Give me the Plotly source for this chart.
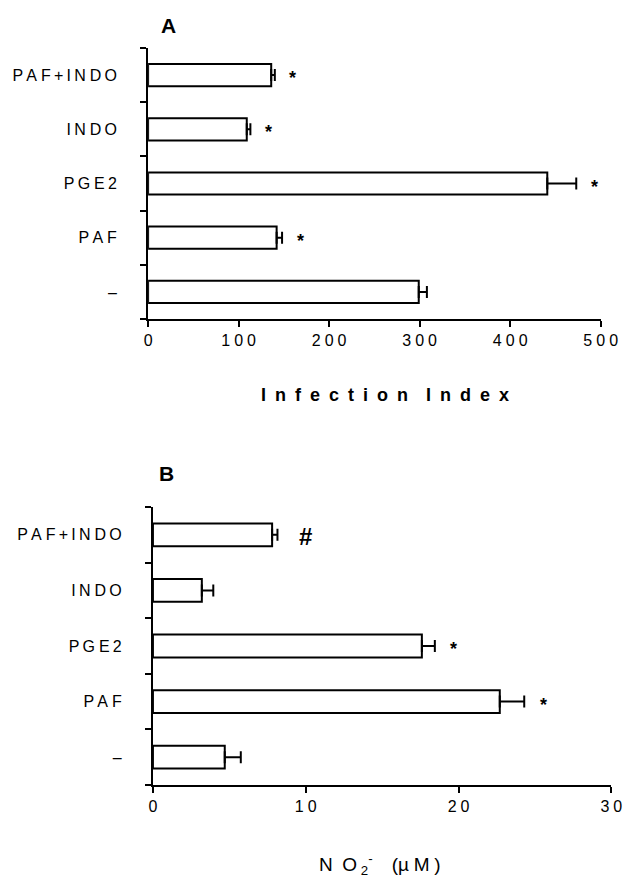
import plotly.graph_objects as go

# Categories bottom -> top
categories = ["–", "PAF", "PGE2", "INDO", "PAF+INDO"]
cat_labels = ["–", "P\u2009A\u2005F", "P\u2009G\u2005E\u20092", "I\u2009N\u2005D\u2009O", "P\u2009A\u2005F\u2009+\u2009I\u2009N\u2005D\u2009O"]

# Panel A: Infection index
a_values = [299, 142, 441, 109, 136]
a_errors = [9, 6, 32, 4, 4]
a_marks = ["", "*", "*", "*", "*"]
a_ticks = [0, 100, 200, 300, 400, 500]
a_ticktext = ["0", "1\u20050\u20050", "2\u20050\u20050", "3\u20050\u20050", "4\u20050\u20050", "5\u20050\u20050"]
a_title = "I\u2002n\u2002f\u2002e\u2002c\u2002t\u2002i\u2002o\u2002n\u2003I\u2002n\u2002d\u2002e\u2002x"

# Panel B: NO2- production
b_values = [4.7, 22.7, 17.6, 3.2, 7.8]
b_errors = [1.05, 1.6, 0.85, 0.75, 0.35]
b_marks = ["", "*", "*", "", "#"]
b_ticks = [0, 10, 20, 30]
b_ticktext = ["0", "1\u20050", "2\u20050", "3\u20050"]
b_title = "N\u2002O\u2009<sub>2</sub><sup>-</sup>\u2003(\u00b5\u2005M\u2005)"

FONT = "Liberation Sans, Arial, sans-serif"
pos = list(range(len(categories)))
bounds = [p - 0.5 for p in pos] + [pos[-1] + 0.5]

fig = go.Figure()

def add_panel(values, errors, xaxis, yaxis):
    fig.add_trace(go.Bar(
        x=values, y=pos, orientation="h", width=0.41,
        marker=dict(color="white", line=dict(color="black", width=2)),
        error_x=dict(type="data", array=errors, arrayminus=[0] * len(errors),
                     symmetric=False, color="black", thickness=2, width=6),
        xaxis=xaxis, yaxis=yaxis, showlegend=False, hoverinfo="skip",
    ))

add_panel(a_values, a_errors, "x", "y")
add_panel(b_values, b_errors, "x2", "y2")

annotations = []
for v, e, m, p in zip(a_values, a_errors, a_marks, pos):
    if m:
        annotations.append(dict(x=v + e, y=p, xref="x", yref="y", text=f"<b>{m}</b>", showarrow=False,
                                xanchor="center", yanchor="middle", xshift=18, yshift=-3,
                                font=dict(family=FONT, size=18, color="black")))
for v, e, m, p in zip(b_values, b_errors, b_marks, pos):
    if m:
        big = m == "#"
        annotations.append(dict(x=v + e, y=p, xref="x2", yref="y2", text=f"<b>{m}</b>",
                                showarrow=False, xanchor="center", yanchor="middle",
                                xshift=28 if big else 19,
                                yshift=-2 if big else -3,
                                font=dict(family=FONT, size=24 if big else 18, color="black")))

annotations.append(dict(x=170 / 638, y=1 - 25 / 881, xref="paper", yref="paper", text="<b>A</b>",
                        showarrow=False, xanchor="center", yanchor="middle",
                        font=dict(family=FONT, size=21, color="black")))
annotations.append(dict(x=168 / 638, y=1 - 473 / 881, xref="paper", yref="paper", text="<b>B</b>",
                        showarrow=False, xanchor="center", yanchor="middle",
                        font=dict(family=FONT, size=21, color="black")))
annotations.append(dict(x=394 / 638, y=1 - 395 / 881, xref="paper", yref="paper", text=f"<b>{a_title}</b>",
                        showarrow=False, xanchor="center", yanchor="middle",
                        font=dict(family=FONT, size=18, color="black")))
annotations.append(dict(x=389 / 638, y=1 - 864 / 881, xref="paper", yref="paper", text=b_title,
                        showarrow=False, xanchor="center", yanchor="middle",
                        font=dict(family=FONT, size=19, color="black")))

xaxis_common = dict(showline=True, linecolor="black", linewidth=2, ticks="outside", ticklen=6,
                    tickwidth=2, tickcolor="black", showgrid=False, zeroline=False,
                    tickfont=dict(family=FONT, size=16, color="black"), tickmode="array")
yaxis_common = dict(showline=True, linecolor="black", linewidth=2, showgrid=False, zeroline=False,
                    range=[-0.5, len(categories) - 0.5], tickmode="array", tickvals=pos,
                    ticktext=cat_labels, ticks="", ticklabelstandoff=26,
                    tickfont=dict(family=FONT, size=16, color="black"),
                    minor=dict(tickmode="array", tickvals=bounds, ticks="outside", ticklen=6,
                               tickwidth=2, tickcolor="black"))

fig.update_layout(
    width=638, height=881, margin=dict(l=0, r=0, t=0, b=0),
    paper_bgcolor="white", plot_bgcolor="white",
    xaxis=dict(domain=[149 / 638, 617 / 638], range=[0, 500], anchor="y",
               tickvals=a_ticks, ticktext=a_ticktext, **xaxis_common),
    yaxis=dict(domain=[1 - 319 / 881, 1 - 48 / 881], anchor="x", **yaxis_common),
    xaxis2=dict(domain=[154 / 638, 628 / 638], range=[0, 30], anchor="y2",
                tickvals=b_ticks, ticktext=b_ticktext, **xaxis_common),
    yaxis2=dict(domain=[1 - 785 / 881, 1 - 507 / 881], anchor="x2", **yaxis_common),
    annotations=annotations,
    bargap=0.5,
)

fig.write_html("out.html")
